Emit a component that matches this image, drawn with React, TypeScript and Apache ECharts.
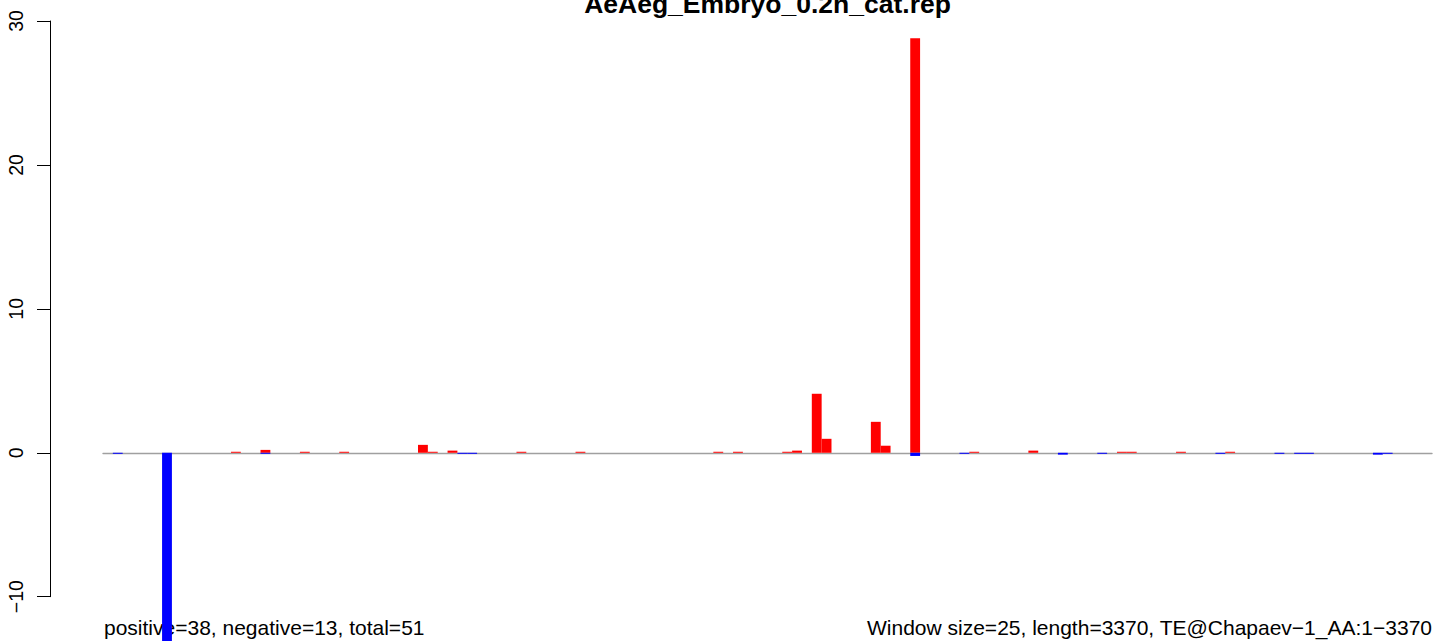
import React, { useEffect, useRef } from "react";
import * as echarts from "echarts";

// 135 windows of 25 bp over a 3370 bp element
const windows: string[] = Array.from({ length: 135 }, (_, i) => String(i + 1));

// windows (1-based) with positive-strand signal and their values
const posWindows = [14, 17, 21, 25, 33, 34, 36, 43, 49, 63, 65, 70, 71, 73, 74, 79, 80, 83, 89, 95, 104, 105, 110, 115];
const posValues = [0.07, 0.2, 0.07, 0.07, 0.55, 0.07, 0.15, 0.07, 0.07, 0.07, 0.07, 0.07, 0.15, 4.1, 0.97, 2.15, 0.49, 28.8, 0.07, 0.15, 0.07, 0.07, 0.07, 0.07];

// windows (1-based) with negative-strand signal and their values
const negWindows = [2, 7, 17, 37, 38, 83, 88, 98, 102, 114, 120, 122, 123, 130, 131];
const negValues = [-0.07, -13.5, -0.07, -0.07, -0.07, -0.22, -0.07, -0.13, -0.07, -0.07, -0.07, -0.07, -0.07, -0.13, -0.07];

const yTicks = { min: -10, max: 30, interval: 10 };

const titleText = "AeAeg_Embryo_0.2h_cat.rep";
const leftNote = "positive=38, negative=13, total=51";
const rightNote = "Window size=25, length=3370, TE@Chapaev\u22121_AA:1\u22123370";

function buildSeries(idx: number[], vals: number[]): (number | null)[] {
  const out: (number | null)[] = windows.map(() => null);
  idx.forEach((w, k) => {
    out[w - 1] = vals[k];
  });
  return out;
}

const FONT = '"Liberation Sans", Arial, sans-serif';

export default function App() {
  const ref = useRef<HTMLDivElement>(null);
  useEffect(() => {
    if (!ref.current) return;
    const chart = echarts.init(ref.current, undefined, { renderer: "svg" });
    const gridLeft = 103;
    const gridRight = 1;
    const plotCenter = gridLeft + (1433 - gridLeft - gridRight) / 2;
    chart.setOption({
      animation: false,
      backgroundColor: "#ffffff",
      grid: { left: gridLeft, right: gridRight, top: 21, bottom: 44.3 },
      xAxis: {
        type: "category",
        data: windows,
        boundaryGap: true,
        axisLine: { show: true, onZero: true, lineStyle: { color: "#a0a0a0", width: 1.4 } },
        axisTick: { show: false },
        axisLabel: { show: false },
        splitLine: { show: false },
      },
      yAxis: {
        type: "value",
        min: yTicks.min,
        max: yTicks.max,
        interval: yTicks.interval,
        offset: 53,
        axisLine: { show: true, lineStyle: { color: "#000", width: 1 } },
        axisTick: { show: true, length: 13, lineStyle: { color: "#000", width: 1 } },
        axisLabel: {
          rotate: 90,
          margin: 24,
          fontSize: 19.5,
          color: "#000",
          fontFamily: FONT,
          formatter: (v: number) => (v < 0 ? "\u2212" + Math.abs(v) : String(v)),
        },
        splitLine: { show: false },
      },
      series: [
        {
          type: "bar",
          name: "positive",
          data: buildSeries(posWindows, posValues),
          barWidth: "100%",
          barGap: "-100%",
          clip: false,
          itemStyle: { color: "#ff0000" },
        },
        {
          type: "bar",
          name: "negative",
          data: buildSeries(negWindows, negValues),
          barWidth: "100%",
          barGap: "-100%",
          clip: false,
          itemStyle: { color: "#0000ff" },
        },
      ],
      graphic: [
        {
          type: "text",
          x: plotCenter,
          y: 4.2,
          style: {
            text: titleText,
            font: `bold 26.5px ${FONT}`,
            align: "center",
            verticalAlign: "middle",
            fill: "#000",
          },
        },
        {
          type: "text",
          x: 104,
          y: 627.7,
          style: {
            text: leftNote,
            font: `21px ${FONT}`,
            align: "left",
            verticalAlign: "middle",
            fill: "#000",
          },
        },
        {
          type: "text",
          x: 1432,
          y: 627.7,
          style: {
            text: rightNote,
            font: `21px ${FONT}`,
            align: "right",
            verticalAlign: "middle",
            fill: "#000",
          },
        },
      ],
    });
    return () => chart.dispose();
  }, []);
  return (
    <div
      ref={ref}
      style={{ position: "absolute", left: 0, top: 0, width: 1433, height: 641, background: "#fff" }}
    />
  );
}
